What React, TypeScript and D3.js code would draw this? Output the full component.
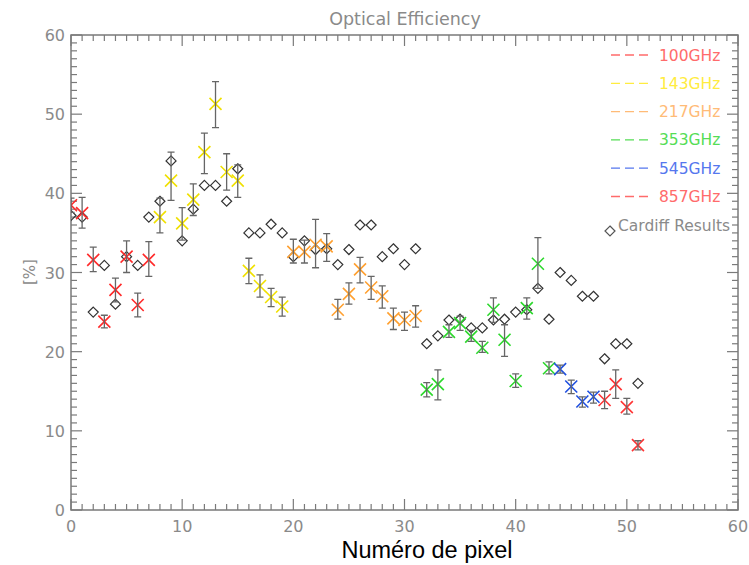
import React from "react";
import * as d3 from "d3";

// ---- Data ----
const cardiffPixels = [0,1,2,3,4,5,6,7,8,9,10,11,12,13,14,15,16,17,18,19,20,21,22,23,24,25,26,27,28,29,30,31,32,33,34,35,36,37,38,39,40,41,42,43,44,45,46,47,48,49,50,51];
const cardiffValues = [37.2,37.0,25.0,30.9,26.0,32.0,30.9,37.0,39.0,44.1,34.0,38.0,41.0,41.0,39.0,43.1,35.0,35.0,36.1,35.0,32.0,34.0,32.9,33.0,31.0,32.9,36.0,36.0,32.0,33.0,31.0,33.0,21.0,22.0,24.0,24.1,23.0,23.0,24.0,24.1,25.0,25.3,28.0,24.1,30.0,29.0,27.0,27.0,19.1,21.0,21.0,16.0];

const pix100 = [0,1,2,3,4,5,6,7];
const val100 = [38.5,37.5,31.6,23.8,27.8,32.0,25.9,31.6];
const lo100 = [37.6,35.6,30.1,23.0,26.3,30.0,24.4,29.5];
const hi100 = [39.4,39.5,33.2,24.6,29.3,34.0,27.4,33.9];

const pix143 = [8,9,10,11,12,13,14,15,16,17,18,19];
const val143 = [37.0,41.6,36.2,39.2,45.2,51.3,42.7,41.6,30.2,28.3,26.9,25.7];
const lo143 = [35.0,39.1,34.1,37.2,42.5,48.3,40.4,39.5,28.6,26.9,25.7,24.5];
const hi143 = [39.4,45.2,38.2,41.2,47.6,54.1,45.0,43.6,31.8,29.7,28.0,26.9];

const pix217 = [20,21,22,23,24,25,26,27,28,29,30,31];
const val217 = [32.6,32.6,33.5,33.3,25.3,27.3,30.4,28.1,27.0,24.2,24.0,24.5];
const lo217 = [31.2,31.2,30.6,31.4,24.1,26.0,28.7,26.6,25.5,22.8,22.7,23.1];
const hi217 = [34.2,34.1,36.7,34.9,26.6,28.7,31.9,29.5,28.3,25.5,25.0,25.8];

const pix353 = [32,33,34,35,36,37,38,39,40,41,42,43];
const val353 = [15.2,15.9,22.5,23.6,21.9,20.5,25.3,21.5,16.3,25.5,31.1,17.9];
const lo353 = [14.3,13.9,21.8,22.7,21.3,19.9,23.7,19.4,15.5,24.1,28.0,17.2];
const hi353 = [16.1,17.7,23.4,24.5,22.7,21.3,26.8,23.4,17.2,26.8,34.4,18.7];

const pix545 = [44,45,46,47];
const val545 = [17.8,15.6,13.7,14.3];
const lo545 = [17.3,14.7,13.0,13.5];
const hi545 = [18.3,16.4,14.3,14.9];

const pix857 = [48,49,50,51];
const val857 = [13.9,15.9,13.0,8.2];
const lo857 = [12.8,14.1,12.1,7.6];
const hi857 = [15.0,17.7,14.1,8.75];

const bandNames = ["100GHz","143GHz","217GHz","353GHz","545GHz","857GHz"];
const bandMarkerColors = ["#ff2a2a","#f0e000","#ffa030","#2cd82c","#1f4fe0","#ff3535"];
const bandTextColors = ["#ff6b6b","#ffec40","#ffbb77","#55dd55","#5577ee","#ff6b6b"];

const xTicks = [0,10,20,30,40,50,60];
const yTicks = [0,10,20,30,40,50,60];
const minorTicks = d3.range(0, 61, 1);

const title = "Optical Efficiency";
const xLabel = "Numéro de pixel";
const yLabel = "[%]";
const cardiffLabel = "Cardiff Results";

const bands = [
  { pix: pix100, val: val100, lo: lo100, hi: hi100 },
  { pix: pix143, val: val143, lo: lo143, hi: hi143 },
  { pix: pix217, val: val217, lo: lo217, hi: hi217 },
  { pix: pix353, val: val353, lo: lo353, hi: hi353 },
  { pix: pix545, val: val545, lo: lo545, hi: hi545 },
  { pix: pix857, val: val857, lo: lo857, hi: hi857 },
];

export default function App() {
  const W = 749, H = 565;
  const left = 71, right = 738, top = 35, bottom = 510;
  const x = d3.scaleLinear().domain([0, 60]).range([left, right]);
  const y = d3.scaleLinear().domain([0, 60]).range([bottom, top]);
  const axisColor = "#7a7a7a";
  const labelColor = "#8a8a8a";
  const font = "'DejaVu Sans', sans-serif";
  const majorLen = 11, minorLen = 6;
  const xs = 6; // X marker half-size
  const ds = 5; // diamond half-size
  const cap = 3.5;

  const diamond = (cx: number, cy: number) =>
    `M${cx},${cy - ds}L${cx + ds},${cy}L${cx},${cy + ds}L${cx - ds},${cy}Z`;

  return (
    <svg width={W} height={H} style={{ position: "absolute", left: 0, top: 0, background: "#fff" }}>
      <defs>
        <clipPath id="plotclip">
          <rect x={left} y={top} width={right - left} height={bottom - top} />
        </clipPath>
      </defs>

      {/* title */}
      <text x={405} y={25} textAnchor="middle" fontFamily={font} fontSize={17.5} fill={labelColor}>{title}</text>

      {/* frame */}
      <rect x={left} y={top} width={right - left} height={bottom - top} fill="none" stroke={axisColor} strokeWidth={1.5} />

      {/* ticks */}
      <g stroke={axisColor} strokeWidth={1.2}>
        {minorTicks.map((t) => {
          const isMajor = t % 10 === 0;
          const len = isMajor ? majorLen : minorLen;
          return (
            <g key={"t" + t}>
              <line x1={x(t)} x2={x(t)} y1={bottom} y2={bottom - len} />
              <line x1={x(t)} x2={x(t)} y1={top} y2={top + len} />
              <line x1={left} x2={left + len} y1={y(t)} y2={y(t)} />
              <line x1={right} x2={right - len} y1={y(t)} y2={y(t)} />
            </g>
          );
        })}
      </g>

      {/* tick labels */}
      {xTicks.map((t) => (
        <text key={"xl" + t} x={x(t)} y={532} textAnchor="middle" fontFamily={font} fontSize={16} fill={labelColor}>{t}</text>
      ))}
      {yTicks.map((t) => (
        <text key={"yl" + t} x={left - 6} y={y(t) + 6} textAnchor="end" fontFamily={font} fontSize={16} fill={labelColor}>{t}</text>
      ))}

      {/* axis titles */}
      <text transform={`translate(35,${272}) rotate(-90)`} textAnchor="middle" fontFamily={font} fontSize={15} fill={labelColor}>{yLabel}</text>
      <text x={427} y={558} textAnchor="middle" fontFamily="'Liberation Sans', Arial, sans-serif" fontSize={23.5} fill="#000">{xLabel}</text>

      <g clipPath="url(#plotclip)">
        {/* Cardiff diamonds */}
        {cardiffPixels.map((p, i) => (
          <path key={"d" + p} d={diamond(x(p), y(cardiffValues[i]))} fill="none" stroke="#333" strokeWidth={1.2} />
        ))}

        {/* band X markers */}
        {bands.map((b, bi) =>
          b.pix.map((p, i) => {
            const cx = x(p), cy = y(b.val[i]);
            return (
              <path key={"x" + bi + "-" + p}
                d={`M${cx - xs},${cy - xs}L${cx + xs},${cy + xs}M${cx - xs},${cy + xs}L${cx + xs},${cy - xs}`}
                stroke={bandMarkerColors[bi]} strokeWidth={1.6} fill="none" />
            );
          })
        )}

        {/* error bars */}
        {bands.map((b, bi) =>
          b.pix.map((p, i) => {
            const cx = x(p), y1 = y(b.lo[i]), y2 = y(b.hi[i]);
            return (
              <path key={"e" + bi + "-" + p}
                d={`M${cx},${y1}L${cx},${y2}M${cx - cap},${y1}L${cx + cap},${y1}M${cx - cap},${y2}L${cx + cap},${y2}`}
                stroke="#666" strokeWidth={1.3} fill="none" />
            );
          })
        )}
      </g>

      {/* legend */}
      {bandNames.map((n, i) => {
        const ly = 55 + i * 28.3;
        return (
          <g key={"lg" + n}>
            <line x1={611} x2={649} y1={ly} y2={ly} stroke={bandTextColors[i]} strokeWidth={1.3} strokeDasharray="9,5" />
            <text x={659} y={ly + 5.5} fontFamily={font} fontSize={15.5} fill={bandTextColors[i]}>{n}</text>
          </g>
        );
      })}
      <path d={diamond(610, 231)} fill="none" stroke="#555" strokeWidth={1.2} />
      <text x={618} y={231} fontFamily={font} fontSize={15.5} fill={labelColor}>{cardiffLabel}</text>
    </svg>
  );
}
